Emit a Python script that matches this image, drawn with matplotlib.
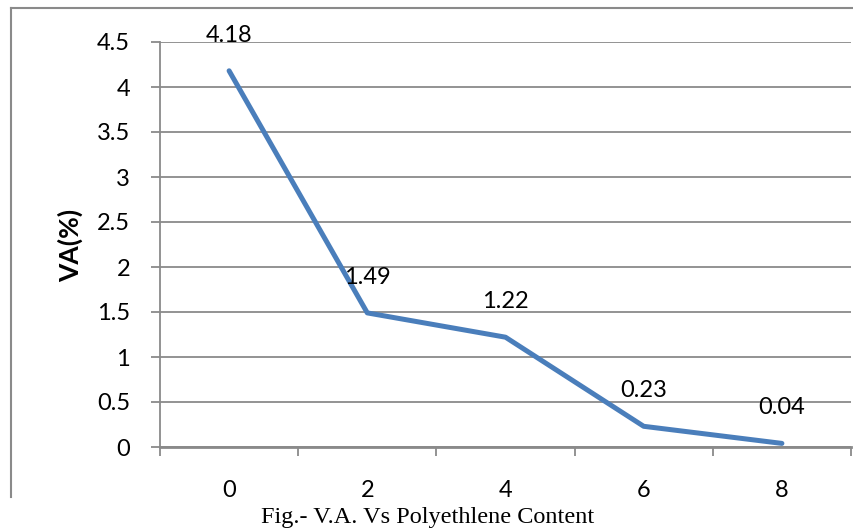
import matplotlib.pyplot as plt
from matplotlib.lines import Line2D

content = ['0', '2', '4', '6', '8']
va = [4.18, 1.49, 1.22, 0.23, 0.04]
yticks = [0, 0.5, 1, 1.5, 2, 2.5, 3, 3.5, 4, 4.5]

plt.rcParams['font.family'] = ['Lato', 'DejaVu Sans']
grey = '#8a8a8a'

fig = plt.figure(figsize=(8.54, 5.31), dpi=100)
ax = fig.add_axes([160 / 854, 1 - 447 / 531, 691 / 854, 405 / 531])

x = list(range(len(content)))
ax.plot(x, va, color='#4a7ebb', lw=3.6, solid_capstyle='round', zorder=3)
for xi, v in zip(x, va):
    ax.annotate('%g' % v, (xi, v), xytext=(0, 18), textcoords='offset points',
                ha='center', va='bottom', fontsize=17)

ax.set_xlim(-0.5, len(content) - 0.5)
ax.set_ylim(0, 4.5)
ax.set_yticks(yticks)
ax.set_yticklabels(['%g' % t for t in yticks])
ax.yaxis.grid(True, color=grey, lw=1.3)
ax.set_axisbelow(True)

ax.set_xticks(x)
ax.set_xticklabels(content)
ax.set_xticks([i - 0.5 for i in range(len(content) + 1)], minor=True)
ax.tick_params(axis='x', which='major', length=0, pad=24, labelsize=17)
ax.tick_params(axis='x', which='minor', length=6.5, width=1.3, color=grey, direction='out')
ax.tick_params(axis='y', length=6.5, width=1.3, color=grey, pad=15, labelsize=17)

for s in ['top', 'right']:
    ax.spines[s].set_visible(False)
for s in ['left', 'bottom']:
    ax.spines[s].set_color(grey)
ax.spines['left'].set_linewidth(1.3)
ax.spines['bottom'].set_linewidth(2)

fig.text(70 / 854, 1 - 245 / 531, 'VA(%)', rotation=90, ha='center', va='center',
         fontsize=19, fontweight='bold')
fig.text(428 / 854, 1 - 517 / 531, 'Fig.- V.A. Vs Polyethlene Content',
         ha='center', va='center', fontsize=17.5, family=['Liberation Serif'])

# chart frame (only top and left edges visible in the crop)
fig.add_artist(Line2D([11 / 854, 11 / 854], [1 - 497 / 531, 1 - 8 / 531], color=grey, lw=1.5))
fig.add_artist(Line2D([11 / 854, 1], [1 - 8 / 531, 1 - 8 / 531], color=grey, lw=1.5))

fig.savefig('out.png', dpi=100)
